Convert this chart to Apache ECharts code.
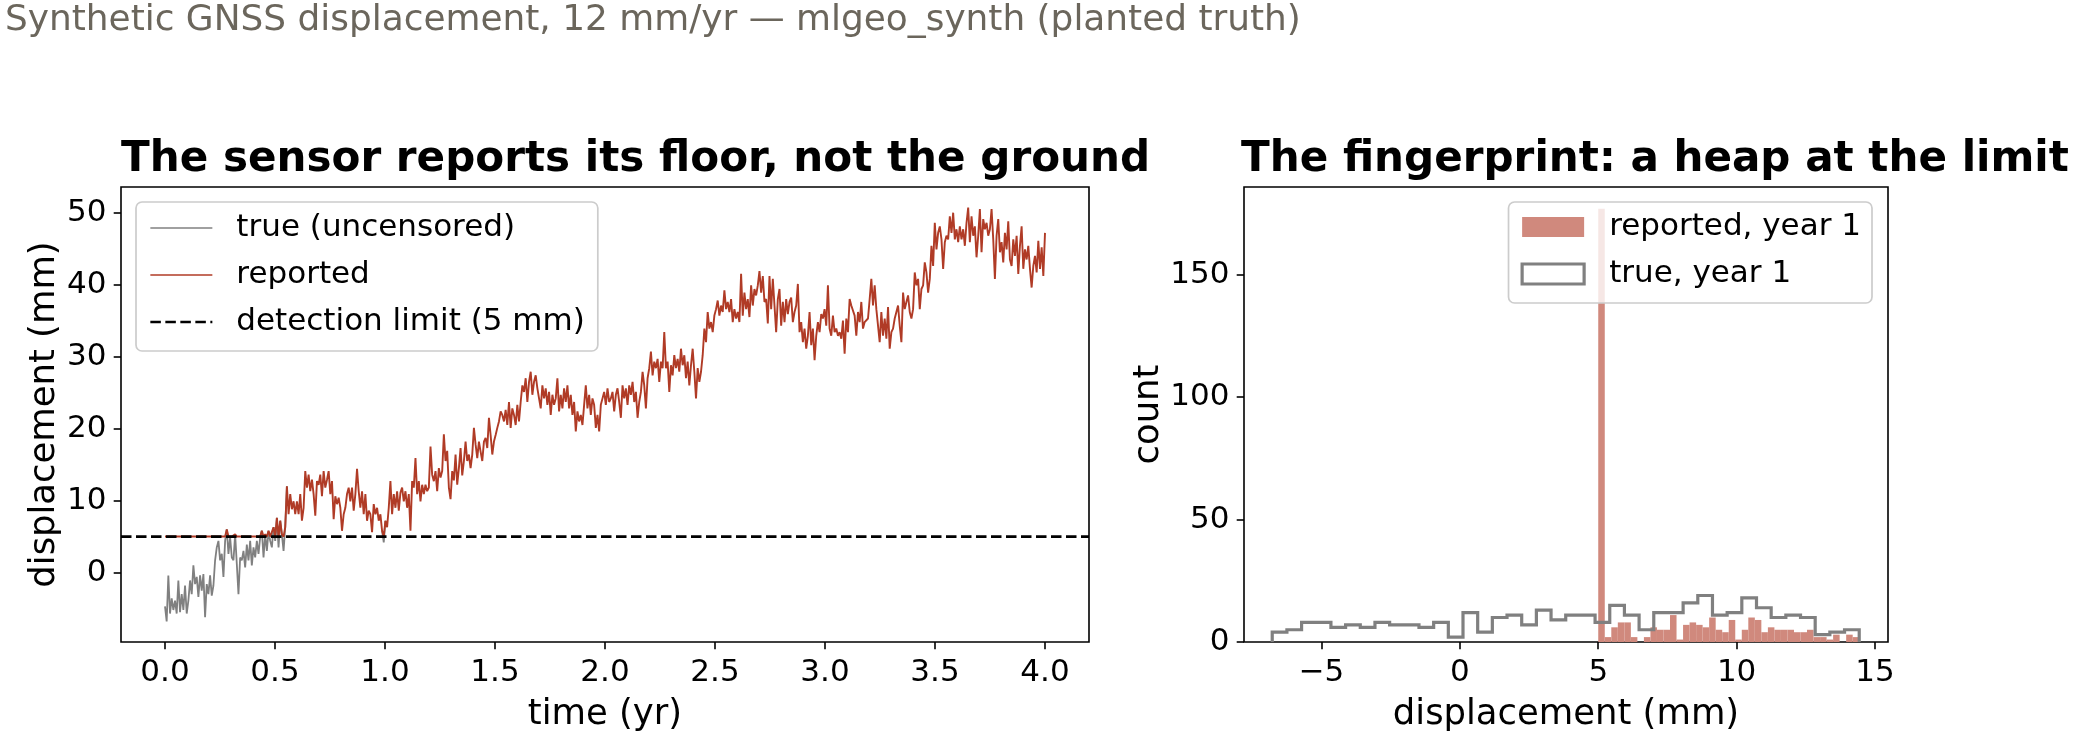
<!DOCTYPE html>
<html>
<head>
<meta charset="utf-8">
<script src="https://cdn.jsdelivr.net/npm/echarts@6/dist/echarts.min.js"></script>
<style>
html,body{margin:0;padding:0;background:#fff;}
#c{width:2074px;height:738px;}
</style>
</head>
<body>
<div id="c"></div>
<script>
// ---------------- data ----------------
const FONT = 'DejaVu Sans';
const SUPTITLE = 'Synthetic GNSS displacement, 12 mm/yr \u2014 mlgeo_synth (planted truth)';
const TITLE_LEFT = 'The sensor reports its floor, not the ground';
const TITLE_RIGHT = 'The fingerprint: a heap at the limit';

const T_STEP = 4 / 527;          // sampling step of the series (yr)
const DETECTION_LIMIT = 5;       // mm

// true (uncensored) displacement, first ~0.55 yr (where it differs from reported)
const trueVals = [
  -4.7, -6.78, -0.4, -5.7, -3.6, -5.2, -3.9, -5.7, -1.1, -5.5,
  -3.0, -5.2, -1.8, -5.7, -3.9, -1.1, -3.0, 1.0, -1.6, -0.6,
  -3.4, -0.4, -2.5, -0.2, -6.2, -1.6, -3.0, -0.4, -3.2, -1.8,
  1.7, 3.5, 4.4, 1.7, 2.6, -0.6, 4.4, 6.0, 2.6, 4.9,
  2.1, 1.7, 5.3, 1.2, -3.0, 2.1, 1.7, 3.0, 0.7, 3.9,
  1.7, 4.4, 1.0, 3.5, 2.1, 4.4, 2.6, 4.9, 5.8, 2.1,
  5.3, 3.0, 5.8, 4.4, 3.5, 6.3, 4.4, 7.6, 3.5, 7.2,
  5.3, 3.0, 6.3, 12.0
];
// short stretch near t = 1 yr where the true value dips under the limit
const trueDipStart = 130;
const trueDipVals = [5.8, 4.2, 7.2];

// reported displacement (censored at the detection limit)
const reportedVals = [
  5, 5, 5, 5, 5, 5, 5, 5, 5, 5,
  5, 5, 5, 5, 5, 5, 5, 5, 5, 5,
  5, 5, 5, 5, 5, 5, 5, 5, 5, 5,
  5, 5, 5, 5, 5, 5, 5, 6.0, 5, 5,
  5, 5, 5.3, 5, 5, 5, 5, 5, 5, 5,
  5, 5, 5, 5, 5, 5, 5, 5, 5.8, 5,
  5.3, 5, 5.8, 5, 5, 6.3, 5, 7.6, 5, 7.2,
  5.3, 5, 6.3, 12.0,
  8.1, 10.9, 8.8, 9.9, 8.1, 9.9, 8.1, 10.9, 7.2, 9.0,
  14.1, 11.8, 13.6, 11.3, 12.9, 10.9, 7.9, 12.7, 12.2, 13.6,
  10.6, 14.1, 11.8, 12.9, 14.1, 10.9, 12.7, 7.4, 10.6, 9.5,
  10.4, 9.0, 5.8, 8.1, 9.0, 10.9, 11.8, 9.9, 11.8, 8.6,
  10.9, 14.4, 11.3, 9.0, 11.3, 8.1, 10.9, 7.2, 8.6, 8.1,
  5.6, 9.5, 8.1, 9.0, 7.2, 8.1, 5.8, 5.0, 7.2, 6.3,
  9.0, 12.7, 8.1, 10.9, 9.0, 11.3, 8.6, 11.1, 11.8, 9.9,
  11.3, 9.0, 10.9, 5.8, 12.7, 11.8, 15.9, 10.9, 12.7, 9.9,
  12.2, 10.9, 12.2, 11.3, 11.8, 17.5, 13.6, 12.7, 14.1, 11.3,
  14.5, 13.2, 14.1, 19.2, 15.5, 16.9, 11.8,
  10.2, 14.1, 12.8, 16.4, 12.2, 14.5, 17.3, 13.5, 15.5, 18.2,
  15.5, 16.4, 14.5, 16.4, 20.1, 17.8, 15.9, 18.2, 16.8, 15.5,
  18.2, 18.7, 17.3, 21.5, 19.1, 16.4, 18.2, 19.1, 20.1, 21.0,
  22.4, 21.9, 21.0, 22.6, 20.5, 23.7, 20.1, 22.8, 21.9, 20.5,
  23.3, 21.0, 23.7, 26.0, 25.1, 27.0, 23.7, 26.5, 27.9, 24.7,
  26.5, 27.4, 25.6, 24.2, 22.8, 26.0, 24.2, 25.6, 23.3, 25.1,
  21.9, 24.7, 23.3, 24.2, 27.0, 22.4, 24.7, 22.8, 25.6, 23.7,
  26.0, 22.8, 24.7, 21.9, 23.7, 19.6, 22.4, 21.0, 21.9, 20.5,
  23.3, 26.0, 22.8, 24.7, 21.9, 24.2, 23.3, 20.1, 21.9, 19.6,
  23.3, 24.2, 25.1, 23.3, 25.6, 23.7, 24.2, 25.1, 22.4, 24.7,
  25.6, 23.7, 21.5, 26.0, 24.2, 25.6, 23.3, 26.0, 24.7, 26.5,
  23.7, 25.1, 21.5, 23.7, 25.1, 27.9, 26.0, 22.8, 27.0, 28.4,
  30.7, 27.4, 29.3, 28.4, 29.7, 26.5, 29.3, 28.4, 33.4, 28.4,
  29.3, 25.1, 28.8, 27.4, 30.2, 28.4, 29.7, 27.9, 31.1, 28.8,
  30.2, 27.0, 29.3, 26.0, 28.8, 31.1, 27.9, 24.2, 28.4, 26.5,
  27.9, 30.2, 33.9, 32.0, 36.2, 33.9, 34.8, 33.4, 35.7, 36.6,
  37.8, 35.7, 37.1, 36.2, 39.2, 36.6, 37.6, 36.2,
  38.0, 34.8, 36.6, 35.3, 36.2, 34.8, 41.5, 35.7, 38.9, 36.6,
  38.0, 35.5, 39.9, 37.1, 39.4, 38.5, 39.9, 41.9, 38.9, 41.2,
  37.6, 38.0, 34.6, 41.2, 36.6, 40.8, 37.1, 33.4, 38.0, 39.4,
  34.3, 37.6, 34.8, 38.0, 35.9, 37.6, 38.2, 34.8, 36.2, 37.1,
  40.1, 33.4, 34.8, 32.0, 33.9, 31.1, 32.9, 36.2, 31.6, 33.9,
  29.5, 32.9, 34.8, 33.4, 35.9, 35.3, 36.6, 34.3, 39.9, 33.9,
  32.9, 35.7, 33.4, 33.9, 32.9, 33.4, 32.5, 35.0, 30.4, 35.3,
  33.4, 38.0, 37.1, 37.3, 35.7, 32.9, 36.2, 34.8, 37.6, 33.9,
  34.8, 35.0, 35.3, 38.0, 40.8, 37.1, 39.9, 36.6, 34.3, 32.0,
  36.2, 32.9, 35.3, 32.5, 36.9, 31.1, 33.4, 33.9, 35.3, 35.5,
  37.1, 34.3, 32.0, 38.9, 36.6, 37.6, 38.5, 36.2, 35.3, 36.6,
  41.7, 39.9, 40.8, 36.6, 39.4, 39.9, 43.1, 41.7, 38.9, 40.8,
  45.4, 42.6, 48.6, 44.9, 47.2, 48.1, 46.3, 42.2, 45.9, 46.8,
  46.3, 49.5, 47.2, 50.0, 46.3, 47.7, 45.9, 48.1, 46.3, 47.7,
  45.4, 48.6, 50.7, 45.9, 49.5, 46.8, 48.1, 43.8, 46.8, 50.5,
  44.5, 49.1, 47.7, 48.6, 46.8, 47.7, 50.5, 46.3, 40.8, 46.8,
  49.1, 44.5, 45.9, 43.1, 47.2, 44.9, 48.8, 43.5, 42.6, 46.3,
  44.0, 46.8, 41.5, 45.4, 48.1, 42.2, 44.9, 43.5, 45.4, 42.2,
  39.6, 42.6, 44.0, 41.7, 46.1, 42.2, 45.2, 41.2, 47.2
];

// axis ranges and tick labels
const timeRange = [-0.2, 4.2];
const dispRange = [-9.65, 53.57];
const timeTicks = [0, 0.5, 1, 1.5, 2, 2.5, 3, 3.5, 4];
const dispTicks = [0, 10, 20, 30, 40, 50];
const histXRange = [-7.8, 15.47];
const histYRange = [0, 185.85];
const histXTicks = [-5, 0, 5, 10, 15];
const histYTicks = [0, 50, 100, 150];

// histograms of year 1 (40 bins each)
const trueHistRange = [-6.78, 14.43];
const trueCounts = [4, 5, 8, 8, 6, 7, 6, 8, 7, 7,
                    6, 8, 2, 12, 4, 10, 11, 7, 13, 9,
                    11, 11, 8, 15, 11, 5, 12, 12, 16, 19,
                    11, 12, 18, 14, 10, 11, 10, 3, 4, 5];
const repHistRange = [5.0, 14.43];
const repCounts = [177, 2, 6, 8, 8, 2, 0, 2, 6, 5,
                   5, 11, 1, 7, 8, 7, 6, 10, 5, 4,
                   9, 1, 5, 10, 9, 4, 6, 5, 5, 5,
                   4, 4, 5, 2, 2, 1, 3, 0, 3, 2];

// ---------------- build ----------------
const RED = '#b03b26';
const RED_FILL = '#d0897d';
const GRAY = '#808080';

function binEdges(range, n) {
  const w = (range[1] - range[0]) / n;
  const e = [];
  for (let i = 0; i <= n; i++) e.push(range[0] + i * w);
  return e;
}
const trueEdges = binEdges(trueHistRange, trueCounts.length);
const repEdges = binEdges(repHistRange, repCounts.length);

const trueData = trueVals.map((v, i) => [i * T_STEP, v]);
const trueDipData = trueDipVals.map((v, i) => [(trueDipStart + i) * T_STEP, v]);
const reportedData = reportedVals.map((v, i) => [i * T_STEP, v]);
const limitData = [[timeRange[0], DETECTION_LIMIT], [timeRange[1], DETECTION_LIMIT]];

const repBars = repCounts.map((c, i) => [repEdges[i], repEdges[i + 1], c]);
const stepPts = [[trueEdges[0], 0]];
trueCounts.forEach((c, i) => { stepPts.push([trueEdges[i], c], [trueEdges[i + 1], c]); });
stepPts.push([trueEdges[trueEdges.length - 1], 0]);

const minus = v => (v < 0 ? '\u2212' + Math.abs(v) : String(v));

function axis(gridIndex, range, ticks, fmt, name, nameGap, isY) {
  return {
    type: 'value', gridIndex, min: range[0], max: range[1],
    name, nameLocation: 'middle', nameGap, nameRotate: isY ? 90 : 0,
    nameTextStyle: { fontFamily: FONT, fontSize: 35.4, color: '#000', lineHeight: 36 },
    axisLine: { show: false, onZero: false },
    axisTick: { show: true, length: 7.3, lineStyle: { color: '#000', width: 1.6 }, customValues: ticks },
    axisLabel: { show: true, customValues: ticks, formatter: fmt, margin: isY ? 14.6 : 15,
                 fontFamily: FONT, fontSize: 31, color: '#000', lineHeight: 31 },
    splitLine: { show: false }
  };
}

const legendCommon = {
  orient: 'vertical', itemWidth: 62, itemHeight: 20, itemGap: 11,
  backgroundColor: 'rgba(255,255,255,0.8)', borderColor: '#cccccc', borderWidth: 1.7, borderRadius: 6,
  selectedMode: false
};
const noSymbol = { opacity: 0 };

const option = {
  animation: false,
  backgroundColor: '#fff',
  title: [
    { text: SUPTITLE, left: 5, top: 3, padding: 0,
      textStyle: { fontFamily: FONT, fontSize: 35.9, fontWeight: 'normal', color: '#6b665c', lineHeight: 36 } },
    { text: TITLE_LEFT, left: 121, top: 139, padding: 0,
      textStyle: { fontFamily: FONT, fontSize: 42.1, fontWeight: 'bold', color: '#000', lineHeight: 42 } },
    { text: TITLE_RIGHT, left: 1241, top: 139, padding: 0,
      textStyle: { fontFamily: FONT, fontSize: 42.1, fontWeight: 'bold', color: '#000', lineHeight: 42 } }
  ],
  grid: [
    { left: 121, top: 187, width: 968, height: 458, show: true, borderColor: '#000', borderWidth: 1.6, backgroundColor: 'transparent' },
    { left: 1244, top: 187, width: 644, height: 458, show: true, borderColor: '#000', borderWidth: 1.6, backgroundColor: 'transparent' }
  ],
  xAxis: [
    axis(0, timeRange, timeTicks, v => v.toFixed(1), 'time (yr)', 55, false),
    axis(1, histXRange, histXTicks, minus, 'displacement (mm)', 55, false)
  ],
  yAxis: [
    axis(0, dispRange, dispTicks, v => String(v), 'displacement (mm)', 58.5, true),
    axis(1, histYRange, histYTicks, v => String(v), 'count', 74, true)
  ],
  legend: [
    Object.assign({}, legendCommon, {
      left: 136, top: 202, padding: [8, 13, 11, 13],
      textStyle: { fontFamily: FONT, fontSize: 31, color: '#000', lineHeight: 36, padding: [0, 0, 0, 19] },
      data: [
        { name: 'true (uncensored)', lineStyle: { width: 1.6 }, itemStyle: noSymbol },
        { name: 'reported', lineStyle: { width: 1.6 }, itemStyle: noSymbol },
        { name: 'detection limit (5 mm)', lineStyle: { width: 2.7 }, itemStyle: noSymbol }
      ]
    }),
    Object.assign({}, legendCommon, {
      right: 202, top: 202, padding: [7, 11, 11, 12],
      textStyle: { fontFamily: FONT, fontSize: 31, color: '#000', lineHeight: 36, padding: [0, 0, 0, 20] },
      data: [
        { name: 'reported, year 1', icon: 'rect', itemStyle: { color: RED_FILL, borderWidth: 0 } },
        { name: 'true, year 1', icon: 'rect', itemStyle: { color: 'rgba(255,255,255,0)', borderColor: GRAY, borderWidth: 3.2 } }
      ]
    })
  ],
  series: [
    { name: 'true (uncensored)', type: 'line', xAxisIndex: 0, yAxisIndex: 0, data: trueData,
      symbol: 'none', showSymbol: false, color: GRAY, lineStyle: { color: GRAY, width: 1.8 }, z: 2 },
    { name: 'true (uncensored)', type: 'line', xAxisIndex: 0, yAxisIndex: 0, data: trueDipData,
      symbol: 'none', showSymbol: false, color: GRAY, lineStyle: { color: GRAY, width: 1.8 }, z: 2 },
    { name: 'reported', type: 'line', xAxisIndex: 0, yAxisIndex: 0, data: reportedData,
      symbol: 'none', showSymbol: false, color: RED, lineStyle: { color: RED, width: 1.9 }, z: 3 },
    { name: 'detection limit (5 mm)', type: 'line', xAxisIndex: 0, yAxisIndex: 0, data: limitData,
      symbol: 'none', showSymbol: false, color: '#000',
      lineStyle: { color: '#000', width: 2.7, type: [10.5, 4.5] }, z: 4 },
    { name: 'reported, year 1', type: 'custom', xAxisIndex: 1, yAxisIndex: 1, data: repBars,
      encode: { x: [0, 1], y: 2 }, itemStyle: { color: RED_FILL }, z: 2,
      renderItem: (params, api) => {
        const p0 = api.coord([api.value(0), api.value(2)]);
        const p1 = api.coord([api.value(1), 0]);
        return { type: 'rect', shape: { x: p0[0], y: p0[1], width: p1[0] - p0[0], height: p1[1] - p0[1] },
                 style: { fill: RED_FILL } };
      } },
    { name: 'true, year 1', type: 'line', xAxisIndex: 1, yAxisIndex: 1, data: stepPts,
      symbol: 'none', showSymbol: false, color: GRAY,
      lineStyle: { color: GRAY, width: 3.2, join: 'miter' }, z: 3 }
  ]
};

const chart = echarts.init(document.getElementById('c'), null, { renderer: 'canvas', width: 2074, height: 738 });
chart.setOption(option);
</script>
</body>
</html>
